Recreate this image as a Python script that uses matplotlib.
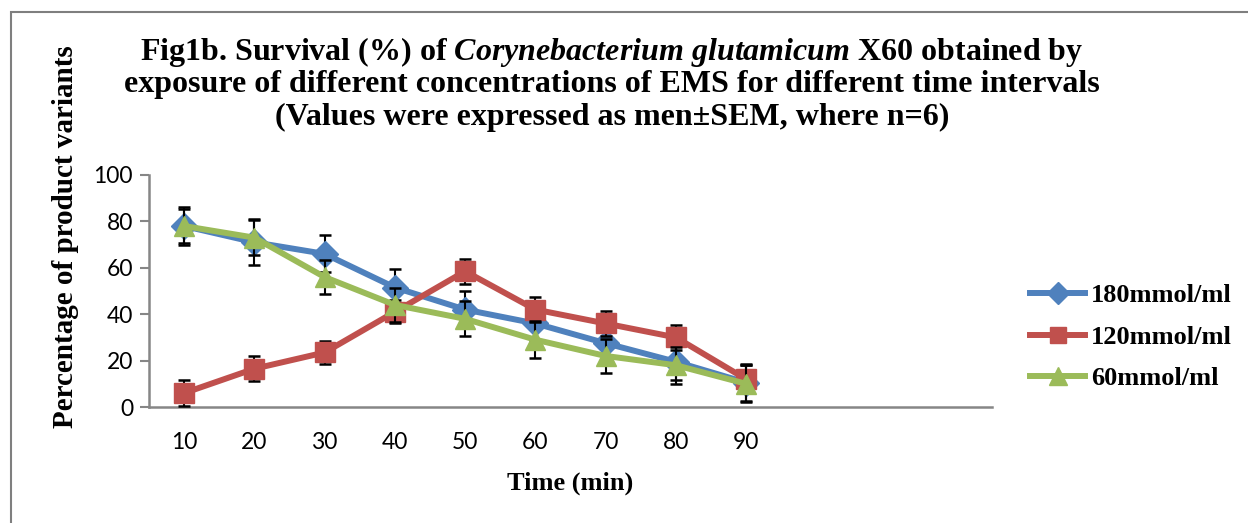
import matplotlib
matplotlib.use('Agg')
import matplotlib.pyplot as plt
from matplotlib.patches import Rectangle
import numpy as np

matplotlib.rcParams['mathtext.fontset'] = 'custom'
matplotlib.rcParams['mathtext.rm'] = 'Liberation Serif:bold'
matplotlib.rcParams['mathtext.bfit'] = 'Liberation Serif:bold:italic'
matplotlib.rcParams['mathtext.it'] = 'Liberation Serif:bold:italic'

# data
times = ['10', '20', '30', '40', '50', '60', '70', '80', '90']
conc_180 = [78, 71, 66, 51.5, 42, 36, 27.5, 19.5, 10.5]
conc_120 = [6, 16.5, 23.5, 41, 58.5, 42, 36, 30, 12]
conc_60 = [78, 73, 56, 44, 38, 29, 22, 18, 10]
err_180 = [8, 10, 8, 8, 8, 8, 8, 8, 8]
err_120 = [5.5, 5.5, 5, 5, 5.5, 5.5, 5.5, 5.5, 6]
err_60 = [7.5, 7.5, 7.5, 7.5, 7.5, 8, 7.5, 8, 8]
labels = ['180mmol/ml', '120mmol/ml', '60mmol/ml']

serif = 'Liberation Serif'
W, H = 1248, 523
fig = plt.figure(figsize=(W / 100, H / 100), dpi=100)
ax = fig.add_axes([149 / W, 1 - 407 / H, (992 - 149) / W, (407 - 175) / H])

x = np.arange(len(times))
series = [
    (conc_180, err_180, '#4F81BD', 'D', 13),
    (conc_120, err_120, '#C0504D', 's', 14),
    (conc_60, err_60, '#9BBB59', '^', 15),
]
for i, ((vals, err, col, mk, ms), lab) in enumerate(zip(series, labels)):
    ax.errorbar(x, vals, yerr=err, fmt='none', ecolor='black', elinewidth=1.5,
                capsize=4.5, capthick=1.8, zorder=2 + i)
    ax.plot(x, vals, color=col, lw=4.3, marker=mk, markersize=ms,
            markerfacecolor=col, markeredgecolor=col, label=lab, zorder=2.5 + i)

ax.set_xlim(-0.5, 11.5)
ax.set_ylim(0, 100)
ax.set_xticks(x)
ax.set_xticklabels(times)
ax.set_yticks(np.arange(0, 101, 20))
ax.tick_params(axis='x', length=0, pad=18, labelsize=16.5, colors='black')
ax.tick_params(axis='y', length=6.5, width=1.5, color='#868686', pad=5, labelsize=16.5)
for lbl in ax.get_xticklabels() + ax.get_yticklabels():
    lbl.set_fontfamily('Lato')
for s in ['top', 'right']:
    ax.spines[s].set_visible(False)
for s in ['left', 'bottom']:
    ax.spines[s].set_color('#868686')
    ax.spines[s].set_linewidth(1.8)

fig.text(570 / W, 1 - 483 / H, 'Time (min)', ha='center', va='center',
         fontfamily=serif, fontweight='bold', fontsize=19)
fig.text(66 / W, 1 - 237 / H, 'Percentage of product variants', rotation=90,
         ha='center', va='center', fontfamily=serif, fontweight='bold', fontsize=21)

title_lines = [
    r'Fig1b. Survival (%) of $\mathbfit{Corynebacterium\ glutamicum}$ X60 obtained by',
    'exposure of different concentrations of EMS for different time intervals',
    '(Values were expressed as men±SEM, where n=6)',
]
for i, t in enumerate(title_lines):
    fig.text(612 / W, 1 - (52 + 32.5 * i) / H, t, ha='center', va='center',
             fontfamily=serif, fontweight='bold', fontsize=23)

leg = fig.legend(loc='center left', bbox_to_anchor=(1030 / W, 1 - 337 / H),
                 frameon=False, prop={'family': serif, 'weight': 'bold', 'size': 19},
                 handlelength=2.1, handletextpad=0.2, labelspacing=0.69,
                 borderpad=0, borderaxespad=0, markerscale=0.85)

fig.patches.append(Rectangle((11 / W, -0.1), 1.2, 1 - 12 / H + 0.1,
                             transform=fig.transFigure, fill=False,
                             edgecolor='#7F7F7F', lw=1.5))

fig.savefig('out.png', dpi=100)
